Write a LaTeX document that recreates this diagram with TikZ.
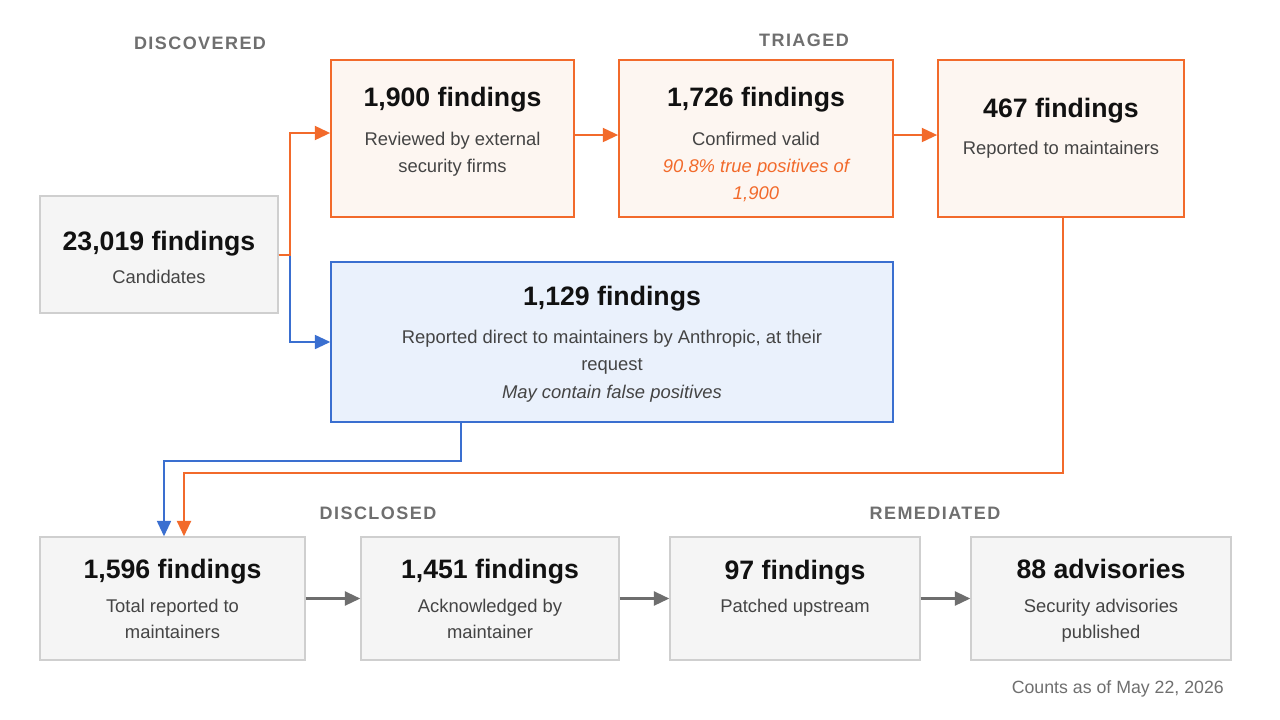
\documentclass[tikz,border=0pt]{standalone}
\usepackage{fontspec}
\setmainfont{Liberation Sans}
\newfontfamily\lblfont[LetterSpace=8]{Liberation Sans}
\usetikzlibrary{arrows.meta,fit,calc}
\definecolor{oline}{HTML}{F26A2B}
\definecolor{ofill}{HTML}{FDF6F1}
\definecolor{bline}{HTML}{3A6FD0}
\definecolor{bfill}{HTML}{EAF1FC}
\definecolor{gline}{HTML}{CFCFCF}
\definecolor{gfill}{HTML}{F5F5F5}
\definecolor{garrow}{HTML}{6E6E6E}
\definecolor{lblgray}{HTML}{6F6F6F}
\definecolor{subgray}{HTML}{444444}
\definecolor{ttlblack}{HTML}{111111}
\tikzset{
  gbox/.style={draw=gline,fill=gfill,line width=1.1pt,inner sep=0pt},
  obox/.style={draw=oline,fill=ofill,line width=1.3pt,inner sep=0pt},
  bbox/.style={draw=bline,fill=bfill,line width=1.1pt,inner sep=0pt},
  ttl/.style={font=\fontsize{20}{24}\selectfont\bfseries,text=ttlblack,anchor=base,inner sep=0pt},
  sub/.style={font=\fontsize{13.8}{16}\selectfont,text=subgray,anchor=base,inner sep=0pt},
  osub/.style={font=\fontsize{13.8}{16}\selectfont\itshape,text=oline,anchor=base,inner sep=0pt},
  isub/.style={font=\fontsize{13.8}{16}\selectfont\itshape,text=subgray,anchor=base,inner sep=0pt},
  lbl/.style={font=\fontsize{13.5}{16}\selectfont\lblfont\bfseries,text=lblgray,anchor=base,inner sep=0pt},
  foot/.style={font=\fontsize{13.3}{16}\selectfont,text=lblgray,anchor=base east,inner sep=0pt},
  ocon/.style={draw=oline,line width=1.5pt},
  bcon/.style={draw=bline,line width=1.3pt},
  gcon/.style={draw=garrow,line width=1.6pt},
  otip/.style={-{Triangle[length=11.5pt,width=10.5pt]}},
}
\begin{document}
\begin{tikzpicture}[x=0.75pt,y=-0.75pt]
\fill[white] (0,0) rectangle (1280,719);
\useasboundingbox (0,0) rectangle (1280,719);

% boxes
\node[gbox,fit={(40,196)(278,313)}] (cand) {};
\node[obox,fit={(331,60)(574,217)}] (f1900) {};
\node[obox,fit={(619,60)(893,217)}] (f1726) {};
\node[obox,fit={(938,60)(1184,217)}] (f467) {};
\node[bbox,fit={(331,262)(893,422)}] (f1129) {};
\node[gbox,fit={(40,537)(305,660)}] (f1596) {};
\node[gbox,fit={(361,537)(619,660)}] (f1451) {};
\node[gbox,fit={(670,537)(920,660)}] (f97) {};
\node[gbox,fit={(971,537)(1231,660)}] (a88) {};

% stage labels
\node[lbl] (lDisc) at (200,49) {DISCOVERED};
\node[lbl] (lTri) at (804,46) {TRIAGED};
\node[lbl] (lDis) at (378,519) {DISCLOSED};
\node[lbl] (lRem) at (935,519) {REMEDIATED};
\node[foot] (foot) at (1224,693) {Counts as of May 22, 2026};

% texts
\node[ttl] (cand-t) at (cand.north |- 0,250) {23,019 findings};
\node[sub] (cand-s) at (cand.north |- 0,283) {Candidates};

\node[ttl] (f1900-t) at (f1900.north |- 0,106) {1,900 findings};
\node[sub] (f1900-s1) at (f1900.north |- 0,145) {Reviewed by external};
\node[sub] (f1900-s2) at (f1900.north |- 0,172) {security firms};

\node[ttl] (f1726-t) at (f1726.north |- 0,106) {1,726 findings};
\node[sub] (f1726-s1) at (f1726.north |- 0,145) {Confirmed valid};
\node[osub] (f1726-s2) at (f1726.north |- 0,172) {90.8\% true positives of};
\node[osub] (f1726-s3) at (f1726.north |- 0,199) {1,900};

\node[ttl] (f467-t) at (f467.north |- 0,117) {467 findings};
\node[sub] (f467-s) at (f467.north |- 0,154) {Reported to maintainers};

\node[ttl] (f1129-t) at (f1129.north |- 0,305) {1,129 findings};
\node[sub] (f1129-s1) at (f1129.north |- 0,343) {Reported direct to maintainers by Anthropic, at their};
\node[sub] (f1129-s2) at (f1129.north |- 0,370) {request};
\node[isub] (f1129-s3) at (f1129.north |- 0,398) {May contain false positives};

\node[ttl] (f1596-t) at (f1596.north |- 0,578) {1,596 findings};
\node[sub] (f1596-s1) at (f1596.north |- 0,612) {Total reported to};
\node[sub] (f1596-s2) at (f1596.north |- 0,638) {maintainers};

\node[ttl] (f1451-t) at (f1451.north |- 0,578) {1,451 findings};
\node[sub] (f1451-s1) at (f1451.north |- 0,612) {Acknowledged by};
\node[sub] (f1451-s2) at (f1451.north |- 0,638) {maintainer};

\node[ttl] (f97-t) at (f97.north |- 0,579) {97 findings};
\node[sub] (f97-s1) at (f97.north |- 0,612) {Patched upstream};

\node[ttl] (a88-t) at (a88.north |- 0,578) {88 advisories};
\node[sub] (a88-s1) at (a88.north |- 0,612) {Security advisories};
\node[sub] (a88-s2) at (a88.north |- 0,638) {published};

% connectors
\coordinate (jb) at (290,342);
\coordinate (jo) at (290,133);
\draw[bcon,otip] (cand.east) -| (jb) -- (jb -| f1129.west);
\draw[ocon,otip] (cand.east) -| (jo) -- (jo -| f1900.west);

\coordinate (y1) at (0,135);
\draw[ocon,otip] (f1900.east |- y1) -- (f1726.west |- y1);
\draw[ocon,otip] (f1726.east |- y1) -- (f467.west |- y1);

\coordinate (cb) at (461,461);
\coordinate (ba) at (164,461);
\draw[bcon,otip] (f1129.south -| cb) -- (cb) -- (ba) -- (ba |- f1596.north);

\coordinate (co) at (1063,473);
\coordinate (oa) at (184,473);
\draw[ocon,otip] (f467.south -| co) -- (co) -- (oa) -- (oa |- f1596.north);

\draw[gcon,otip] (f1596.east) -- (f1451.west);
\draw[gcon,otip] (f1451.east) -- (f97.west);
\draw[gcon,otip] (f97.east) -- (a88.west);
\end{tikzpicture}
\end{document}
